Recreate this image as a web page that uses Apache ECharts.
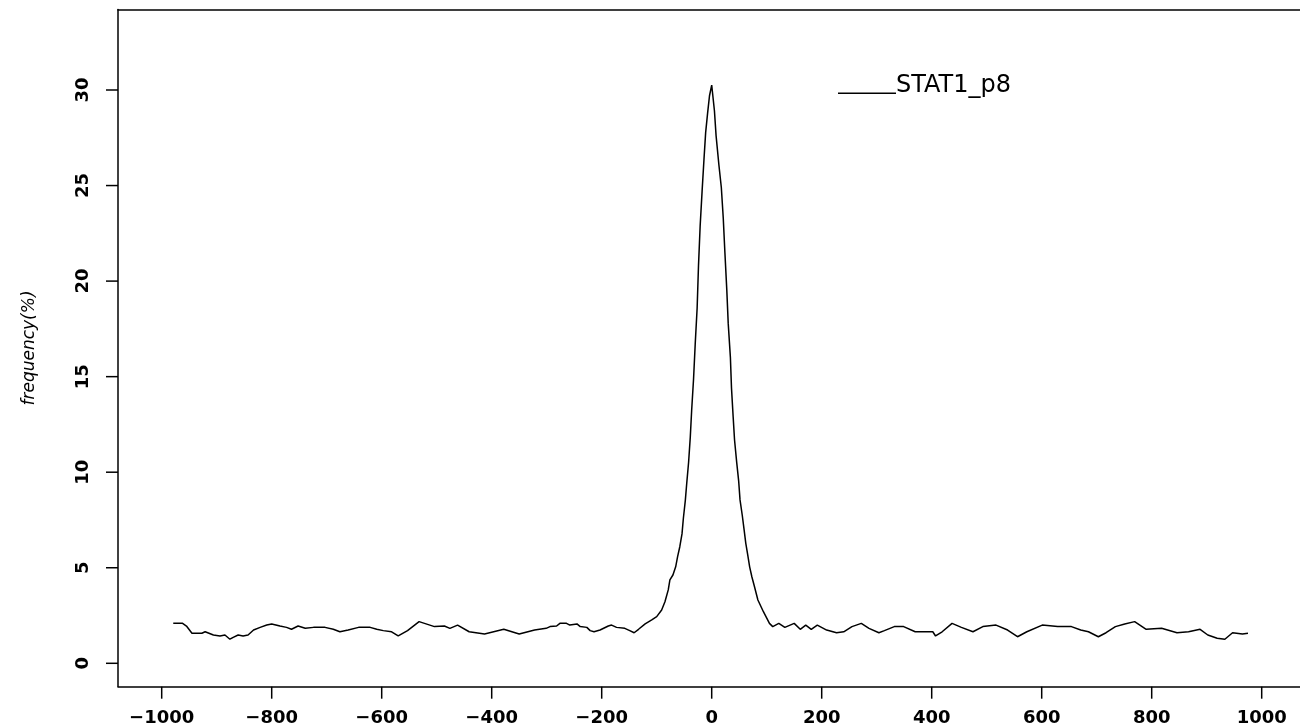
<!DOCTYPE html>
<html>
<head>
<meta charset="utf-8">
<script src="https://cdn.jsdelivr.net/npm/echarts@6/dist/echarts.min.js"></script>
<style>
html,body{margin:0;padding:0;background:#fff;}
#chart{width:1300px;height:728px;}
</style>
</head>
<body>
<div id="chart"></div>
<script>
// Position relative to site (bp)
const positions = [
 -979,-962,-955,-945,-927,-921,-906,-894,-885,-876,-870,-861,-852,-843,-833,-821,-809,-800,-785,-773,
 -764,-752,-739,-724,-703,-688,-676,-661,-642,-621,-609,-597,-582,-570,-553,-532,-504,-486,-476,-462,
 -441,-413,-378,-350,-322,-301,-294,-282,-276,-264,-258,-245,-239,-227,-221,-214,-203,-188,-182,-173,
 -158,-149,-141,-133,-121,-109,-100,-91,-85,-79,-76,-70.5,-65.5,-62,-58,-54,-51.5,-48,-45.5,-42,
 -39,-36.5,-33,-30,-26.5,-24,-21,-17.5,-14,-11,-7.5,-4,0,5,8,13,17.5,21,24,27.5,
 30,34,36,39,41.5,45.5,49,51.5,55.5,59,62,65.5,69,73,77,84,94,105,111,122,
 133,150,161,171,181,192,209,227,240,255,272,286,304,314,332,349,370,402,407,419,
 437,454,475,493,517,538,556,573,601,629,654,671,685,703,717,734,751,769,790,818,
 846,867,888,902,919,933,947,965,975
];
// Frequency (%)
const frequency = [
 2.09,2.09,1.95,1.57,1.57,1.65,1.48,1.43,1.48,1.26,1.36,1.48,1.43,1.48,1.74,1.88,2.0,2.06,1.95,1.88,
 1.78,1.95,1.83,1.88,1.88,1.78,1.65,1.74,1.88,1.88,1.78,1.71,1.65,1.43,1.71,2.18,1.92,1.95,1.83,2.0,
 1.65,1.53,1.78,1.53,1.74,1.83,1.92,1.95,2.09,2.09,2.0,2.06,1.92,1.88,1.71,1.65,1.74,1.95,2.0,1.88,
 1.83,1.71,1.60,1.78,2.06,2.27,2.44,2.79,3.22,3.84,4.36,4.62,5.05,5.58,6.10,6.77,7.59,8.51,9.38,10.52,
 11.81,13.2,14.88,16.69,18.58,20.81,22.88,24.68,26.39,27.77,28.78,29.7,30.26,28.9,27.6,26.1,24.9,23.3,21.5,19.5,
 17.8,16.0,14.4,12.9,11.7,10.5,9.55,8.55,7.76,6.97,6.28,5.67,5.05,4.53,4.1,3.31,2.70,2.09,1.92,2.09,
 1.88,2.09,1.78,2.0,1.78,2.0,1.74,1.60,1.65,1.92,2.09,1.83,1.60,1.71,1.92,1.92,1.65,1.65,1.43,1.65,
 2.09,1.88,1.65,1.92,2.0,1.74,1.39,1.65,2.0,1.92,1.92,1.74,1.65,1.39,1.60,1.92,2.06,2.18,1.78,1.83,
 1.60,1.65,1.78,1.48,1.31,1.26,1.60,1.53,1.57
];
const xTickValues = [-1000,-800,-600,-400,-200,0,200,400,600,800,1000];
const yTickValues = [0,5,10,15,20,25,30];
const xMin = -1000, xMax = 1000, xStep = 200;
const yMin = 0, yMax = 30, yStep = 5;
const seriesName = 'STAT1_p8';
const yTitle = 'frequency(%)';

const X_OFFSET = 23.4;   // distance from y=0 line down to frame bottom
const Y_OFFSET = 43.7;   // distance from x=-1000 line left to frame left
const TICK_LEN = 12;

const chart = echarts.init(document.getElementById('chart'), null, {renderer:'canvas'});
const pts = positions.map((x,i)=>[x,frequency[i]]);
function tickFont(){ return {fontFamily:'DejaVu Sans', fontWeight:'bold', fontSize:18, color:'#000'}; }
function frameLine(){ return {show:true, onZero:false, lineStyle:{color:'#000', width:1.5}}; }

chart.setOption({
  animation:false,
  backgroundColor:'#fff',
  grid:[
    {left:118, top:9.5, right:0, height:677, show:false},
    {left:161.7, top:90, width:1100, height:573.3, show:false}
  ],
  legend:{
    left:833, top:69,
    data:[{name:seriesName}],
    icon:'path://M0,0 L0.01,0 L0.01,0.01 Z M0,14 L58,14 L58,15.5 L0,15.5 Z',
    symbolKeepAspect:false,
    itemWidth:58, itemHeight:16, itemGap:0,
    textStyle:{fontFamily:'DejaVu Sans', fontSize:24, color:'#000', padding:[0,0,0,-5]},
    itemStyle:{color:'#000'}
  },
  xAxis:[
    {gridIndex:0, type:'value', min:0, max:1, position:'bottom', axisLine:frameLine(), axisTick:{show:false}, axisLabel:{show:false}, splitLine:{show:false}},
    {gridIndex:0, type:'value', min:0, max:1, position:'top', axisLine:frameLine(), axisTick:{show:false}, axisLabel:{show:false}, splitLine:{show:false}},
    {gridIndex:1, type:'value', min:xMin, max:xMax, interval:xStep, position:'bottom', offset:X_OFFSET,
      axisLine:{show:false, onZero:false}, splitLine:{show:false}, axisTick:{show:false},
      axisLabel:{show:true, margin:23, ...tickFont(),
        formatter:v=> (v<0 ? '\u2212'+Math.abs(v) : String(v))}}
  ],
  yAxis:[
    {gridIndex:0, type:'value', min:0, max:1, position:'left', axisLine:frameLine(), axisTick:{show:false}, axisLabel:{show:false}, splitLine:{show:false},
      name:yTitle, nameLocation:'middle', nameGap:80, nameRotate:90,
      nameTextStyle:{fontFamily:'DejaVu Sans', fontStyle:'italic', fontSize:17, color:'#000'}},
    {gridIndex:1, type:'value', min:yMin, max:yMax, interval:yStep, position:'left', offset:Y_OFFSET,
      axisLine:{show:false, onZero:false}, splitLine:{show:false}, axisTick:{show:false},
      axisLabel:{show:true, rotate:90, margin:26, ...tickFont()}}
  ],
  series:[
    {
      name:seriesName, type:'line', data:pts, showSymbol:false, symbol:'none', xAxisIndex:2, yAxisIndex:1,
      clip:false, lineStyle:{color:'#000', width:1.5}, itemStyle:{color:'#000'}, smooth:false
    }
  ]
});

// Tick marks placed through the library's own axis scales
const tickGraphics = [];
const yZeroPx = chart.convertToPixel({yAxisIndex:1}, yMin);
const xLeftPx = chart.convertToPixel({xAxisIndex:2}, xMin);
xTickValues.forEach(v=>{
  const px = chart.convertToPixel({xAxisIndex:2}, v);
  const y0 = yZeroPx + X_OFFSET;
  tickGraphics.push({type:'line', z:100, silent:true,
    shape:{x1:px, y1:y0, x2:px, y2:y0+TICK_LEN}, style:{stroke:'#000', lineWidth:1.5}});
});
yTickValues.forEach(v=>{
  const py = chart.convertToPixel({yAxisIndex:1}, v);
  const x0 = xLeftPx - Y_OFFSET;
  tickGraphics.push({type:'line', z:100, silent:true,
    shape:{x1:x0-TICK_LEN, y1:py, x2:x0, y2:py}, style:{stroke:'#000', lineWidth:1.5}});
});
chart.setOption({graphic:{elements:tickGraphics}});
</script>
</body>
</html>
